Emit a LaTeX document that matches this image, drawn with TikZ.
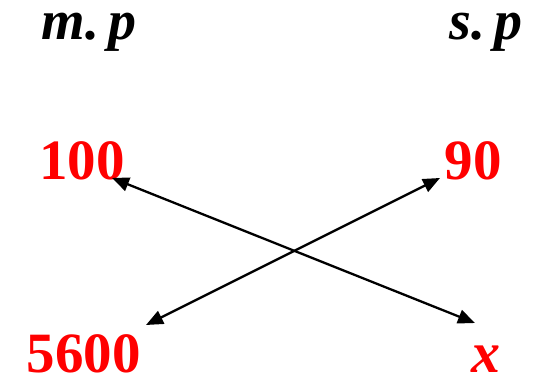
\documentclass[tikz,border=0pt]{standalone}
\usepackage{fontspec}
\setmainfont{Liberation Serif}
\usetikzlibrary{arrows.meta}
\definecolor{numred}{RGB}{255,0,0}
\tikzset{
  lbl/.style={anchor=base, inner sep=0pt, text height=30pt, text depth=11pt, font=\fontsize{56}{60}\selectfont\bfseries\itshape},
  num/.style={anchor=base, inner sep=0pt, text height=38pt, text depth=0pt, text=numred, font=\fontsize{57}{60}\selectfont\bfseries},
  var/.style={anchor=base, inner sep=0pt, text height=26pt, text depth=0pt, text=numred, font=\fontsize{58}{60}\selectfont\bfseries\itshape},
  link/.style={line width=2.3pt, {Triangle[length=17pt,width=14pt]}-{Triangle[length=17pt,width=14pt]}}
}
\begin{document}
\begin{tikzpicture}[x=1pt,y=1pt]
\useasboundingbox (0,0) rectangle (533,379);
\node[lbl] (mp) at (89,339) {m.\,p};
\node[lbl] (sp) at (486,339) {s.\,p};
\node[num] (n100) at (82,199) {100};
\node[num] (n90) at (473,199) {90};
\node[num] (n5600) at (84,6) {5600};
\node[var] (nx) at (486,6) {x};
\coordinate (a1) at (112,201);
\coordinate (a2) at (475,56);
\coordinate (b1) at (440,201);
\coordinate (b2) at (146,54);
\draw[link] (a1) -- (a2);
\draw[link] (b2) -- (b1);
\end{tikzpicture}
\end{document}
